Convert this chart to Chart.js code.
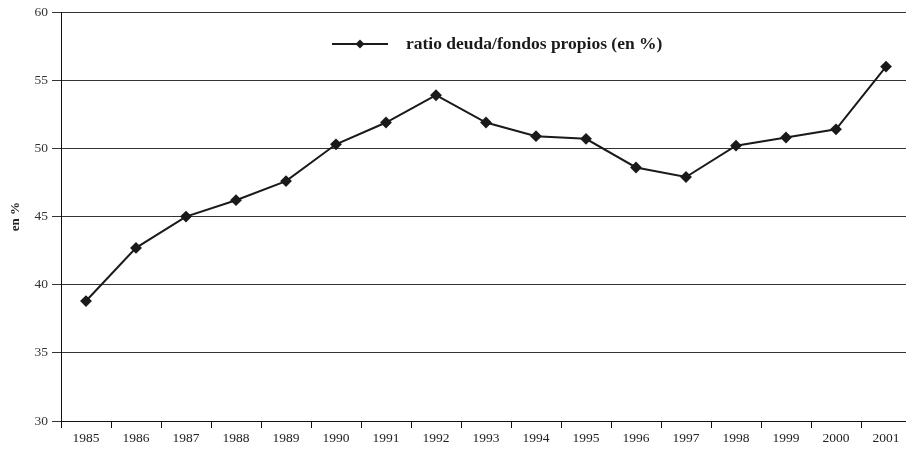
<!DOCTYPE html>
<html>
<head>
<meta charset="utf-8">
<script src="https://cdn.jsdelivr.net/npm/chart.js@4"></script>
<style>
    html, body { margin: 0; padding: 0; background: #fff; overflow: hidden; }
    canvas { display: block; }
</style>
</head>
<body>
<canvas id="graficoRatio" width="906" height="449"></canvas>
<script>
// Datos
const anios = ['1985', '1986', '1987', '1988', '1989', '1990', '1991', '1992', '1993',
    '1994', '1995', '1996', '1997', '1998', '1999', '2000', '2001'];
const ratioDeuda = [38.8, 42.7, 45.0, 46.2, 47.6, 50.3, 51.9, 53.9, 51.9,
    50.9, 50.7, 48.6, 47.9, 50.2, 50.8, 51.4, 56.0];
const ticksY = [30, 35, 40, 45, 50, 55, 60];
const etiquetaSerie = 'ratio deuda/fondos propios (en %)';

const fuente = "'Liberation Serif', 'Times New Roman', serif";

// El original está recortado a la derecha: el eje X sigue unos píxeles fuera del lienzo
const ejeRecortado = {
    id: 'ejeRecortado',
    afterLayout(chart) {
        chart.chartArea.right = chart.width;
        chart.chartArea.width = chart.chartArea.right - chart.chartArea.left;
        const x = chart.scales.x;
        x.right = chart.width + 5;
        x.width = x.right - x.left;
        x.configure();
    }
};

// Leyenda dibujada dentro del área del gráfico
const leyendaInterna = {
    id: 'leyendaInterna',
    afterDraw(chart) {
        const ctx = chart.ctx;
        const y = 44;
        ctx.save();
        ctx.strokeStyle = '#1a1a1a';
        ctx.lineWidth = 2;
        ctx.beginPath();
        ctx.moveTo(332, y);
        ctx.lineTo(388, y);
        ctx.stroke();
        ctx.fillStyle = '#1a1a1a';
        ctx.beginPath();
        ctx.moveTo(360, y - 4.5);
        ctx.lineTo(364.5, y);
        ctx.lineTo(360, y + 4.5);
        ctx.lineTo(355.5, y);
        ctx.closePath();
        ctx.fill();
        ctx.font = 'bold 17.5px ' + fuente;
        ctx.textBaseline = 'middle';
        ctx.textAlign = 'left';
        ctx.fillText(chart.data.datasets[0].label, 406, y);
        ctx.restore();
    }
};

const config = {
    type: 'line',
    data: {
        labels: anios,
        datasets: [{
            label: etiquetaSerie,
            data: ratioDeuda,
            borderColor: '#1a1a1a',
            backgroundColor: '#1a1a1a',
            borderWidth: 2,
            pointStyle: 'rectRot',
            pointRadius: 4.5,
            pointHoverRadius: 4.5,
            tension: 0,
            fill: false,
            clip: false
        }]
    },
    options: {
        responsive: false,
        animation: false,
        layout: { padding: { top: 9, right: 0, left: 0, bottom: 0 } },
        plugins: {
            legend: { display: false },
            tooltip: { enabled: false }
        },
        scales: {
            x: {
                offset: true,
                afterFit(scale) { scale.height = 28; },
                grid: {
                    offset: true,
                    drawOnChartArea: false,
                    drawTicks: true,
                    tickLength: 7,
                    color: '#111'
                },
                border: { color: '#111', width: 1 },
                ticks: {
                    padding: 2,
                    maxRotation: 0,
                    autoSkip: false,
                    color: '#222',
                    font: { family: fuente, size: 13.5 }
                }
            },
            y: {
                min: 30,
                max: 60,
                afterFit(scale) { scale.width = 61; },
                afterBuildTicks(scale) {
                    scale.ticks = ticksY.map(v => ({ value: v }));
                },
                grid: {
                    color: '#333',
                    lineWidth: 1,
                    drawTicks: true,
                    tickLength: 9
                },
                border: { color: '#111', width: 1 },
                ticks: {
                    padding: 4,
                    color: '#333',
                    font: { family: fuente, size: 13.5 }
                },
                title: {
                    display: true,
                    text: 'en %',
                    color: '#222',
                    padding: { top: 8, bottom: 0 },
                    font: { family: fuente, size: 13, weight: 'bold' }
                }
            }
        }
    },
    plugins: [ejeRecortado, leyendaInterna]
};

const ctx = document.getElementById('graficoRatio').getContext('2d');
const grafico = new Chart(ctx, config);
</script>
</body>
</html>
